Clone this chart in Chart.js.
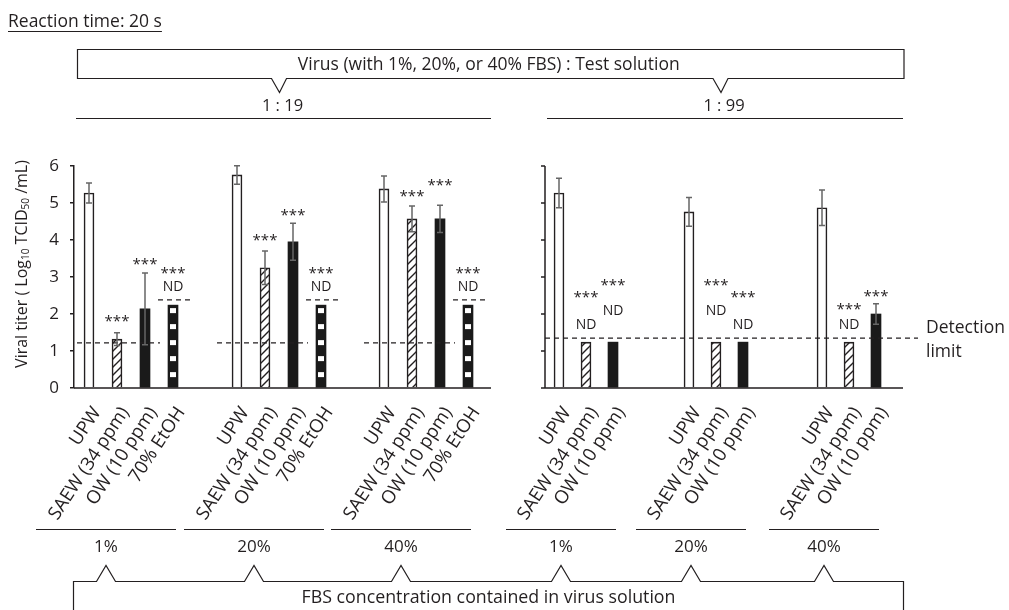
<!DOCTYPE html>
<html>
<head>
<meta charset="utf-8">
<title>Viral titer after 20 s reaction</title>
<script src="https://cdn.jsdelivr.net/npm/chart.js@4.4.1/dist/chart.umd.min.js"></script>
<style>
  html, body { margin: 0; padding: 0; background: #fff; }
  canvas { display: block; }
</style>
</head>
<body>
<canvas id="chart" width="1009" height="610"></canvas>
<script>
// ---- data ----
const fbsLevels = ['1%', '20%', '40%', '1%', '20%', '40%'];
const dilutions = ['1 : 19', '1 : 99'];
const treatments = ['UPW', 'SAEW (34 ppm)', 'OW (10 ppm)', '70% EtOH'];

// Log10 TCID50/mL, one value per FBS group (null = not tested)
const upw = [5.27, 5.76, 5.38, 5.27, 4.76, 4.87];
const upwErr = [0.27, 0.25, 0.35, 0.40, 0.39, 0.48];
const saew = [1.32, 3.25, 4.57, 1.24, 1.24, 1.24];
const saewErr = [0.17, 0.45, 0.35, 0, 0, 0];
const ow = [2.14, 3.95, 4.57, 1.24, 1.24, 2.00];
const owErr = [0.97, 0.50, 0.37, 0, 0, 0.28];
const etoh = [2.24, 2.24, 2.24, null, null, null];

const detectionLimit = [1.22, 1.35]; // per dilution
const etohLimit = 2.38;              // dashed ND limit over the EtOH bars

// heights of the significance marks
const saewStars = [1.89, 4.08, 5.27, 2.54, 2.86, 2.22];
const owStars = [3.43, 4.76, 5.57, 2.86, 2.54, 2.57];
const etohStars = [3.19, 3.19, 3.19, null, null, null];
const saewND = [null, null, null, 1.70, 2.08, 1.70];
const owND = [null, null, null, 2.08, 1.70, null];
const etohND = [2.73, 2.73, 2.73, null, null, null];

// ---- layout ----
const FONT = '"Open Sans", "Noto Sans", sans-serif';
const INK = '#231f20';
const groupStart = [15, 163, 310, 485, 615, 748]; // along the x scale
const barStep = [28, 28, 28, 27, 27, 27];
const leftAxis = [0, 417];
const rightAxis = [471, 829];
const LABEL_ANGLE = 56.5 * Math.PI / 180;

const xPos = (g, t) => groupStart[g] + t * barStep[g];
const nTreat = g => (g < 3 ? 4 : 3);

const seriesFor = (vals, t) => vals
  .map((v, g) => (v == null ? null : { x: xPos(g, t), y: v }))
  .filter(Boolean);

const tickList = [];
fbsLevels.forEach((f, g) => {
  for (let t = 0; t < nTreat(g); t++) tickList.push({ value: xPos(g, t), label: treatments[t] });
});

function hatchPattern() {
  const c = document.createElement('canvas');
  c.width = 8; c.height = 8;
  const p = c.getContext('2d');
  p.fillStyle = '#fff';
  p.fillRect(0, 0, 8, 8);
  p.strokeStyle = INK;
  p.lineWidth = 1.4;
  p.beginPath();
  p.moveTo(0, 8); p.lineTo(8, 0);
  p.moveTo(-2, 2); p.lineTo(2, -2);
  p.moveTo(6, 10); p.lineTo(10, 6);
  p.stroke();
  return p.createPattern(c, 'repeat');
}

function text(ctx, s, x, y, size, align = 'center', base = 'middle') {
  ctx.font = size + 'px ' + FONT;
  ctx.textAlign = align;
  ctx.textBaseline = base;
  ctx.fillText(s, x, y);
}

const decor = {
  id: 'decor',
  afterDatasetsDraw(chart) {
    const { ctx, scales: { x, y } } = chart;
    const X = v => x.getPixelForValue(v);
    const Y = v => y.getPixelForValue(v);
    ctx.save();

    // white blocks on the EtOH bars
    ctx.fillStyle = '#fff';
    chart.getDatasetMeta(3).data.forEach(bar => {
      for (let yy = bar.y + 3; yy + 5 <= bar.base - 2; yy += 16) ctx.fillRect(bar.x - 3, yy, 6, 5);
    });

    // x axis segments and the second y axis
    ctx.strokeStyle = INK;
    ctx.lineWidth = 1.5;
    ctx.beginPath();
    [leftAxis, rightAxis].forEach(([a, b]) => { ctx.moveTo(X(a), Y(0)); ctx.lineTo(X(b), Y(0)); });
    const rx = X(rightAxis[0]);
    ctx.moveTo(rx, Y(0)); ctx.lineTo(rx, Y(6));
    for (let v = 0; v <= 6; v++) { ctx.moveTo(rx - 4, Y(v)); ctx.lineTo(rx, Y(v)); }
    ctx.stroke();

    // detection limits
    ctx.setLineDash([5, 4]);
    ctx.lineWidth = 1.2;
    ctx.beginPath();
    for (let g = 0; g < 3; g++) {
      const a = Math.max(X(xPos(g, 0)) - 20, X(0) + 3);
      const b = X(xPos(g, 2)) + 15;
      ctx.moveTo(a, Y(detectionLimit[0])); ctx.lineTo(b, Y(detectionLimit[0]));
      if (etoh[g] != null) {
        const ex = X(xPos(g, 3));
        ctx.moveTo(ex - 15, Y(etohLimit)); ctx.lineTo(ex + 20, Y(etohLimit));
      }
    }
    ctx.moveTo(rx, Y(detectionLimit[1])); ctx.lineTo(X(rightAxis[1]) + 15, Y(detectionLimit[1]));
    ctx.stroke();
    ctx.setLineDash([]);

    // error bars
    ctx.strokeStyle = '#666';
    ctx.lineWidth = 1.5;
    [[upw, upwErr, 0], [saew, saewErr, 1], [ow, owErr, 2]].forEach(([vals, errs, t]) => {
      vals.forEach((v, g) => {
        if (v == null || !errs[g]) return;
        const px = X(xPos(g, t));
        const hi = Y(v + errs[g]), lo = Y(v - errs[g]);
        ctx.beginPath();
        ctx.moveTo(px, lo); ctx.lineTo(px, hi);
        ctx.moveTo(px - 3, lo); ctx.lineTo(px + 3, lo);
        ctx.moveTo(px - 3, hi); ctx.lineTo(px + 3, hi);
        ctx.stroke();
      });
    });

    // *** and ND marks
    ctx.fillStyle = INK;
    [[saewStars, saewND, 1], [owStars, owND, 2], [etohStars, etohND, 3]].forEach(([stars, nd, t]) => {
      stars.forEach((v, g) => {
        if (v == null) return;
        text(ctx, '***', X(xPos(g, t)), Y(v) + 8, 15, 'center', 'alphabetic');
      });
      nd.forEach((v, g) => {
        if (v == null) return;
        text(ctx, 'ND', X(xPos(g, t)), Y(v), 14);
      });
    });

    // rotated category labels, placed at the bar positions of the x scale
    ctx.font = '18.5px ' + FONT;
    ctx.textAlign = 'right';
    ctx.textBaseline = 'alphabetic';
    tickList.forEach(t => {
      const px = X(t.value);
      ctx.save();
      ctx.translate(px + 12.5, Y(0) + 24);
      ctx.rotate(-LABEL_ANGLE);
      ctx.fillText(t.label, 0, 0);
      ctx.restore();
    });
    ctx.restore();
  },

  afterDraw(chart) {
    const { ctx, chartArea: ca, scales: { x, y } } = chart;
    const X = v => x.getPixelForValue(v);
    const Y = v => y.getPixelForValue(v);
    ctx.save();
    ctx.fillStyle = INK;
    ctx.strokeStyle = INK;
    ctx.lineWidth = 1.2;

    // heading
    text(ctx, 'Reaction time: 20 s', 8, 22, 17.5, 'left');
    ctx.font = '17.5px ' + FONT;
    const hw = ctx.measureText('Reaction time: 20 s').width;
    ctx.beginPath();
    ctx.moveTo(8, 31.5); ctx.lineTo(8 + hw, 31.5);
    ctx.stroke();

    // dilution callout
    const segs = [leftAxis, rightAxis].map(([a, b]) => [X(a), X(b)]);
    const boxL = ca.left + 3.5, boxR = ca.right + 1, boxT = 49.5, boxB = 78.5;
    ctx.beginPath();
    ctx.moveTo(boxL, boxB); ctx.lineTo(boxL, boxT); ctx.lineTo(boxR, boxT); ctx.lineTo(boxR, boxB);
    segs.map(([a, b]) => (a + b) / 2 - 3).reverse().forEach(t => {
      ctx.lineTo(t + 7, boxB); ctx.lineTo(t, boxB + 14); ctx.lineTo(t - 8, boxB);
    });
    ctx.closePath();
    ctx.stroke();
    text(ctx, 'Virus (with 1%, 20%, or 40% FBS) : Test solution', (boxL + boxR) / 2 - 2, 65, 17.5);

    segs.forEach(([a, b], i) => {
      text(ctx, dilutions[i], (a + b) / 2, 106, 16.5);
      ctx.beginPath();
      ctx.moveTo(a + 2, 118.5); ctx.lineTo(b, 118.5);
      ctx.stroke();
    });

    // detection limit label
    text(ctx, 'Detection', 926, 328, 17.5, 'left');
    text(ctx, 'limit', 926, 352, 17.5, 'left');

    // y title with subscripts
    const parts = [['Viral titer ( Log', 16, 0], ['10', 10, 4], [' TCID', 16, 0], ['50', 10, 4], [' /mL)', 16, 0]];
    let total = 0;
    parts.forEach(p => { ctx.font = p[1] + 'px ' + FONT; total += ctx.measureText(p[0]).width; });
    ctx.translate(22, (Y(0) + Y(6)) / 2 - 13);
    ctx.rotate(-Math.PI / 2);
    let cx = -total / 2;
    parts.forEach(([s, size, dy]) => {
      ctx.font = size + 'px ' + FONT;
      ctx.textAlign = 'left';
      ctx.textBaseline = 'middle';
      ctx.fillText(s, cx, dy);
      cx += ctx.measureText(s).width;
    });
    ctx.setTransform(1, 0, 0, 1, 0, 0);

    // FBS group brackets and callout
    const groupLines = fbsLevels.map((f, g) => [X(xPos(g, 0)) - 53, X(xPos(g, nTreat(g) - 1)) + 3]);
    ctx.lineWidth = 1.2;
    groupLines.forEach(([a, b], g) => {
      ctx.beginPath();
      ctx.moveTo(a, 529.5); ctx.lineTo(b, 529.5);
      ctx.stroke();
      text(ctx, fbsLevels[g], (a + b) / 2, 547, 17);
    });
    const fL = ca.left - 0.5, fR = ca.right + 0.5, fT = 581.5;
    ctx.beginPath();
    ctx.moveTo(fL, 620); ctx.lineTo(fL, fT);
    groupLines.forEach(([a, b]) => {
      const c = (a + b) / 2;
      ctx.lineTo(c - 9.5, fT); ctx.lineTo(c, fT - 16); ctx.lineTo(c + 9.5, fT);
    });
    ctx.lineTo(fR, fT); ctx.lineTo(fR, 620);
    ctx.stroke();
    text(ctx, 'FBS concentration contained in virus solution', (fL + fR) / 2, 598, 17.8);

    ctx.restore();
  }
};

const barDefaults = { barThickness: 10, grouped: false, borderSkipped: 'start' };

new Chart(document.getElementById('chart').getContext('2d'), {
  type: 'bar',
  data: {
    datasets: [
      { ...barDefaults, label: treatments[0], data: seriesFor(upw, 0), backgroundColor: '#fff', borderColor: INK, borderWidth: 1.6 },
      { ...barDefaults, label: treatments[1], data: seriesFor(saew, 1), backgroundColor: hatchPattern(), borderColor: INK, borderWidth: 1.6 },
      { ...barDefaults, label: treatments[2], data: seriesFor(ow, 2), backgroundColor: '#1a1a1a', borderWidth: 0 },
      { ...barDefaults, label: treatments[3], data: seriesFor(etoh, 3), backgroundColor: '#1a1a1a', borderWidth: 0 }
    ]
  },
  options: {
    responsive: false,
    animation: false,
    layout: { padding: { top: 166, right: 106, left: 0, bottom: 0 } },
    plugins: {
      legend: { display: false },
      tooltip: { enabled: false }
    },
    scales: {
      x: {
        type: 'linear',
        min: 0,
        max: rightAxis[1],
        offset: false,
        grid: { display: false },
        border: { display: false },
        ticks: { display: false },
        afterFit: s => { s.height = 222; }
      },
      y: {
        min: 0,
        max: 6,
        afterFit: s => { s.width = 74; },
        ticks: { stepSize: 1, padding: 11, color: INK, font: { family: FONT, size: 17 } },
        grid: { drawOnChartArea: false, tickLength: 4, color: INK, lineWidth: 1.5 },
        border: { color: INK, width: 1.5 }
      }
    }
  },
  plugins: [decor]
});
</script>
</body>
</html>
